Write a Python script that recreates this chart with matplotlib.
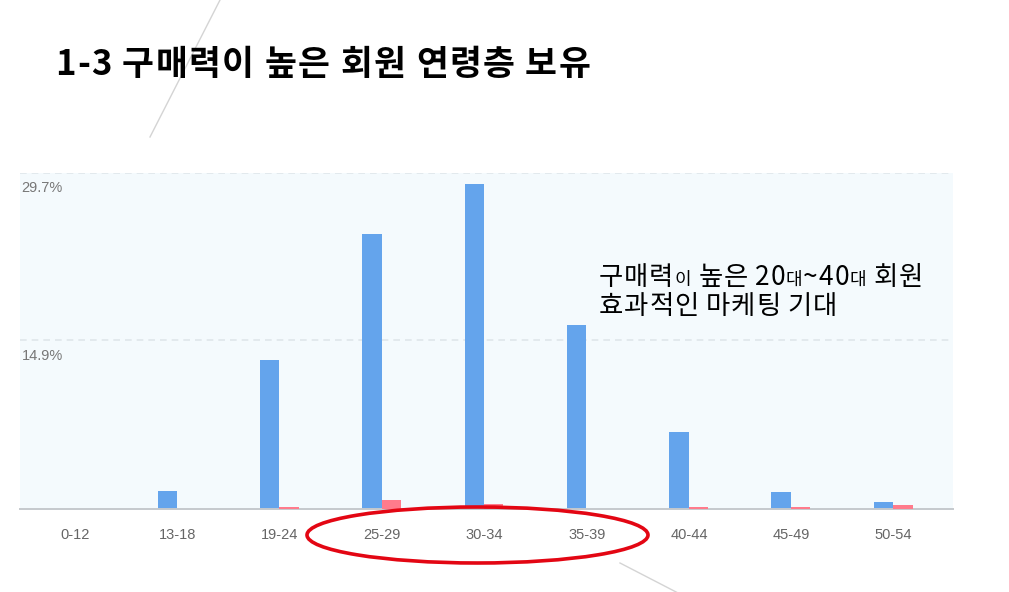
import numpy as np
import matplotlib.pyplot as plt
from matplotlib.patches import Ellipse

plt.rcParams['font.family'] = ['Noto Sans CJK KR', 'DejaVu Sans']

# datos (porcentaje)
age_groups = ['0-12', '13-18', '19-24', '25-29', '30-34', '35-39', '40-44', '45-49', '50-54']
blue_vals = [0.0, 1.6, 13.2, 24.3, 28.7, 16.3, 6.8, 1.5, 0.65]
pink_vals = [0.0, 0.0, 0.15, 0.8, 0.45, 0.0, 0.2, 0.2, 0.35]
y_ticks = [14.9, 29.7]
y_tick_labels = ['14.9%', '29.7%']

title = '1-3 구매력이 높은 회원 연령층 보유'
note_line1 = [('구매력', 19), ('이', 13), (' 높은 20', 19), ('대', 13), ('~40', 19), ('대', 13), (' 회원', 19)]
note_line2 = [('효과적인 마케팅 기대', 19)]

W, H = 1009, 592
fig = plt.figure(figsize=(W / 100, H / 100), dpi=100)

# ejes del grafico de barras
ax = fig.add_axes([20 / W, 1 - 509 / H, (953 - 20) / W, (509 - 173) / H])
ax.set_facecolor('#f4fafd')
x = np.arange(len(age_groups))
bw = 0.19
ax.bar(x - 0.1, blue_vals, width=bw, color='#64a4ec', zorder=3)
ax.bar(x + 0.09, pink_vals, width=bw, color='#ff7b8c', zorder=5)

ax.set_xlim(-0.54, 8.58)
ax.set_ylim(0, 29.7)
for s in ['top', 'right', 'left']:
    ax.spines[s].set_visible(False)
ax.spines['bottom'].set_color('#c5c9cd')
ax.spines['bottom'].set_linewidth(1.4)
ax.spines['bottom'].set_zorder(4)

ax.set_yticks(y_ticks)
ax.set_yticklabels([])
ax.tick_params(axis='y', length=0)
ax.yaxis.grid(True, linestyle=(0, (4, 3)), color='#dfe6ea', linewidth=1.2, zorder=1)
ax.set_xticks(x)
ax.set_xticklabels(age_groups, family='Liberation Sans', fontsize=10.5, color='#666666')
ax.tick_params(axis='x', length=0, pad=14)

# etiquetas del eje y, dentro del area
for yv, lab in zip(y_ticks, y_tick_labels):
    ax.annotate(lab, xy=(0, yv), xycoords=('axes fraction', 'data'),
                xytext=(1, -6), textcoords='offset points',
                ha='left', va='top', family='Liberation Sans',
                fontsize=10.5, color='#777777')

# capa superior en pixeles para titulo, lineas y elipse
ov = fig.add_axes([0, 0, 1, 1], zorder=10)
ov.set_xlim(0, W)
ov.set_ylim(H, 0)
ov.axis('off')
ov.patch.set_alpha(0)

ov.plot([220, 150], [0, 137], color='#d4d4d4', linewidth=1)
ov.plot([620, 680], [563, 594], color='#d4d4d4', linewidth=1)

ov.add_patch(Ellipse((477.5, 535), 341, 56, fill=False, edgecolor='#e30613', linewidth=2.6))

renderer = fig.canvas.get_renderer()


def texto_espaciado(pieces, x0, y0, track, **kw):
    # dibuja caracter por caracter con espacio extra entre letras
    cx = x0
    for txt, size in pieces:
        for ch in txt:
            t = ov.text(cx, y0, ch, fontsize=size, ha='left', va='baseline', **kw)
            cx += t.get_window_extent(renderer=renderer).width + track
    return cx


texto_espaciado([(title, 25)], 55, 75, 1.3, color='black', fontweight='bold')
texto_espaciado(note_line1, 599, 285, 0.8, color='black')
texto_espaciado(note_line2, 599, 314, 0.8, color='black')

fig.savefig('out.png', dpi=100)
